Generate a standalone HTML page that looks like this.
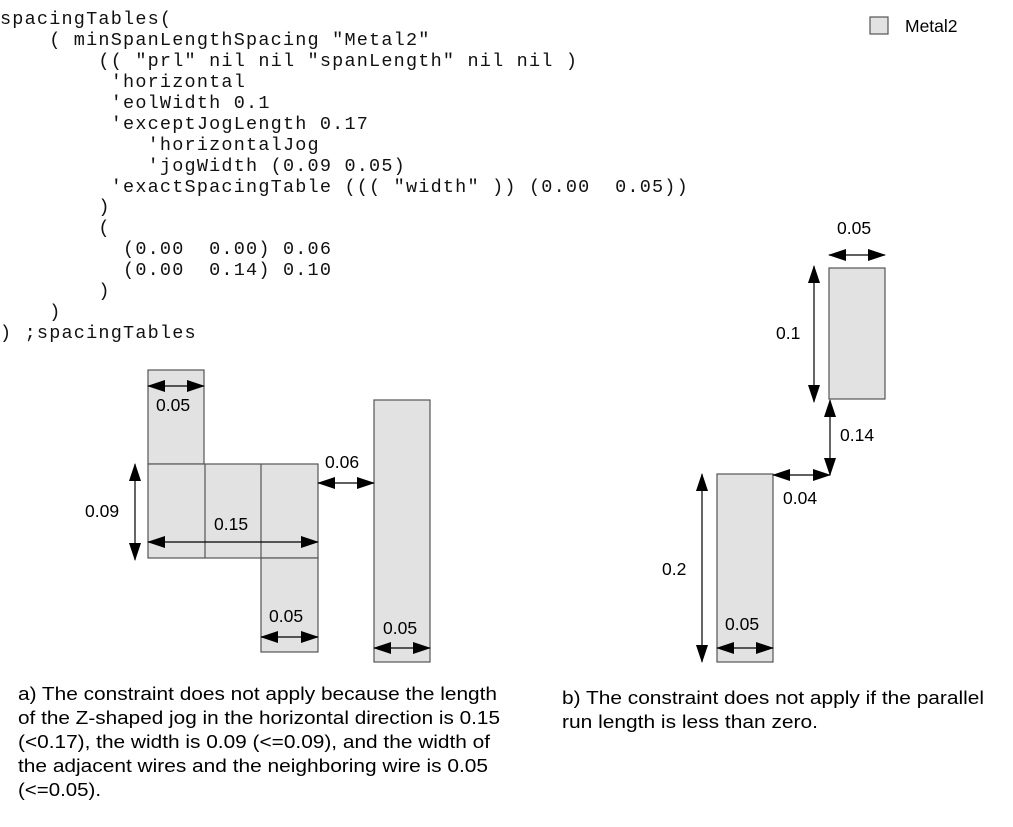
<!DOCTYPE html>
<html><head><meta charset="utf-8"><style>
html,body{margin:0;padding:0;background:#fff;width:1013px;height:827px;overflow:hidden;position:relative}
pre{position:absolute;left:0;top:10px;margin:0;font-family:"Liberation Mono",monospace;font-size:18.5px;letter-spacing:1.2px;line-height:20.93px;color:#111}
svg{position:absolute;left:0;top:0}
</style></head><body>
<pre>spacingTables(
    ( minSpanLengthSpacing "Metal2"
        (( "prl" nil nil "spanLength" nil nil )
         'horizontal
         'eolWidth 0.1
         'exceptJogLength 0.17
            'horizontalJog
            'jogWidth (0.09 0.05)
         'exactSpacingTable ((( "width" )) (0.00  0.05))
        )
        (
          (0.00  0.00) 0.06
          (0.00  0.14) 0.10
        )
    )
) ;spacingTables</pre>
<svg width="1013" height="827" xmlns="http://www.w3.org/2000/svg" font-family="Liberation Sans, sans-serif" font-size="17.5" fill="#000">
<defs>
<marker id="a" markerWidth="18" markerHeight="12" refX="17" refY="6" orient="auto-start-reverse" markerUnits="userSpaceOnUse"><path d="M0,0 L18,6 L0,12 Z" fill="#000"/></marker>
</defs>
<g fill="#e2e2e2" stroke="#555" stroke-width="1.2">
<rect x="870" y="17" width="18" height="17"/>
<rect x="148" y="370" width="56" height="94"/>
<rect x="148" y="464" width="170" height="94"/>
<rect x="261" y="558" width="57" height="94"/>
<rect x="374" y="400" width="56" height="262"/>
<rect x="829" y="268" width="56" height="131"/>
<rect x="717" y="474" width="56" height="188"/>
</g>
<g stroke="#555" stroke-width="1.2"><line x1="205" y1="464" x2="205" y2="558"/><line x1="261" y1="464" x2="261" y2="558"/></g>
<g stroke="#000" stroke-width="1.2" marker-start="url(#a)" marker-end="url(#a)">
<line x1="148" y1="386" x2="204" y2="386"/>
<line x1="318" y1="483" x2="374" y2="483"/>
<line x1="135" y1="464" x2="135" y2="560"/>
<line x1="148" y1="542" x2="318" y2="542"/>
<line x1="261" y1="637" x2="318" y2="637"/>
<line x1="374" y1="648" x2="430" y2="648"/>
<line x1="829" y1="255" x2="885" y2="255"/>
<line x1="814" y1="266" x2="814" y2="402"/>
<line x1="830" y1="400" x2="830" y2="475"/>
<line x1="773" y1="475" x2="830" y2="475"/>
<line x1="702" y1="474" x2="702" y2="662"/>
<line x1="717" y1="648" x2="773" y2="648"/>
</g>
<text x="905" y="32">Metal2</text>
<text x="156" y="411">0.05</text>
<text x="325" y="468">0.06</text>
<text x="85" y="517">0.09</text>
<text x="214" y="530">0.15</text>
<text x="269" y="622">0.05</text>
<text x="383" y="634">0.05</text>
<text x="837" y="234">0.05</text>
<text x="776" y="339">0.1</text>
<text x="840" y="441">0.14</text>
<text x="783" y="504">0.04</text>
<text x="662" y="575">0.2</text>
<text x="725" y="630">0.05</text>
<g font-size="18.5" lengthAdjust="spacingAndGlyphs">
<text x="18" y="700" textLength="479" lengthAdjust="spacingAndGlyphs">a) The constraint does not apply because the length</text>
<text x="18" y="724" textLength="482" lengthAdjust="spacingAndGlyphs">of the Z-shaped jog in the horizontal direction is 0.15</text>
<text x="18" y="748" textLength="472" lengthAdjust="spacingAndGlyphs">(&lt;0.17), the width is 0.09 (&lt;=0.09), and the width of</text>
<text x="18" y="772" textLength="470" lengthAdjust="spacingAndGlyphs">the adjacent wires and the neighboring wire is 0.05</text>
<text x="18" y="796" textLength="83" lengthAdjust="spacingAndGlyphs">(&lt;=0.05).</text>
<text x="562" y="704" textLength="422" lengthAdjust="spacingAndGlyphs">b) The constraint does not apply if the parallel</text>
<text x="562" y="728" textLength="256" lengthAdjust="spacingAndGlyphs">run length is less than zero.</text>
</g>
</svg>
</body></html>
